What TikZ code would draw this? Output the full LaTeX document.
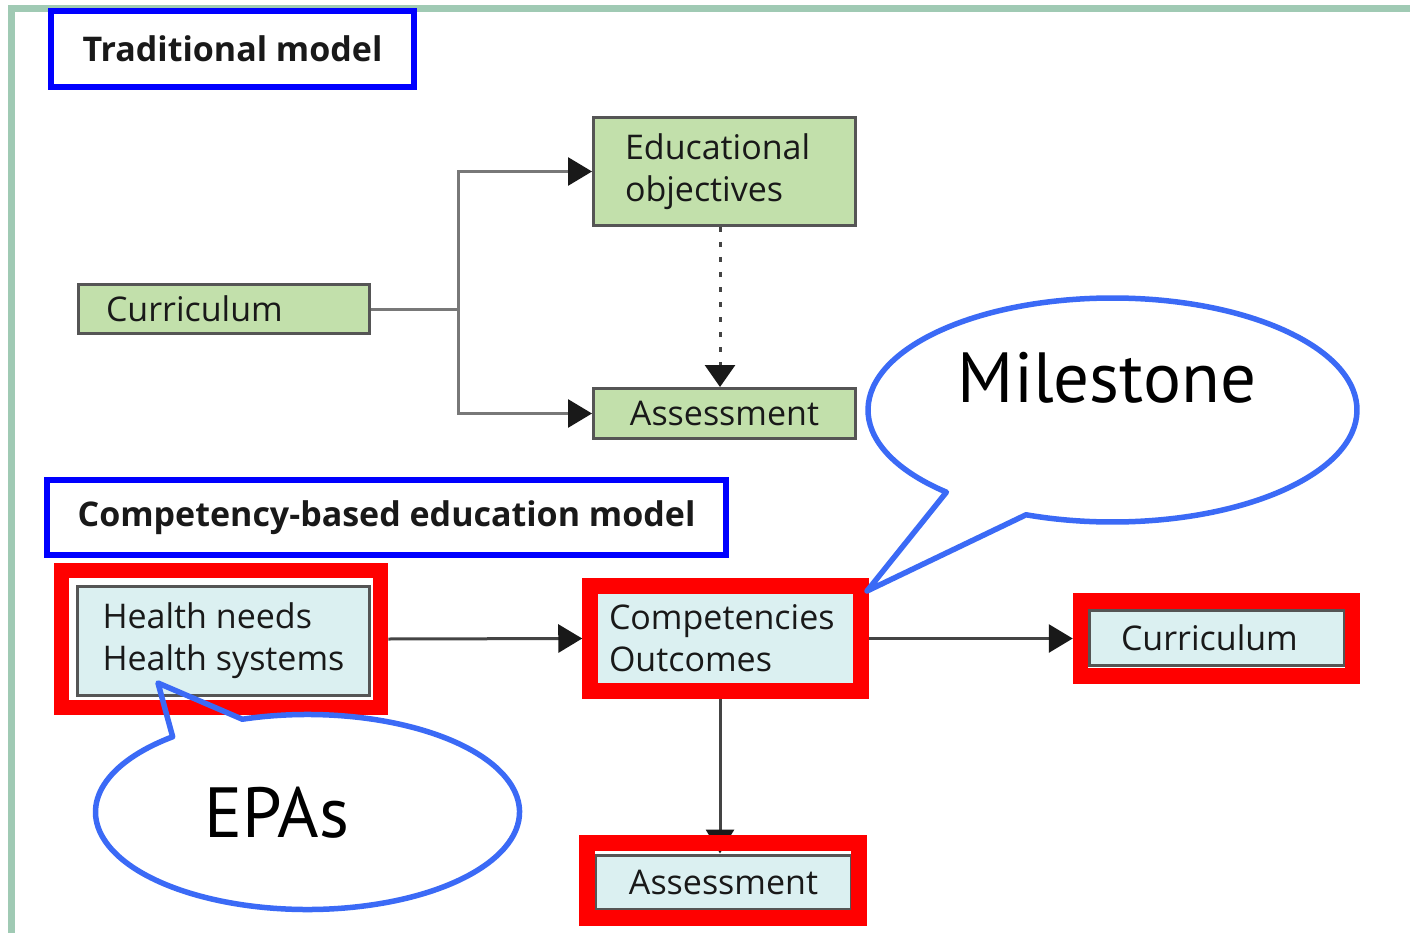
\documentclass[tikz,border=0pt]{standalone}
\usepackage{fontspec}
\setmainfont{Open Sans}
\newfontfamily\calloutfont{PT Sans}
\usetikzlibrary{arrows.meta}
\definecolor{framegreen}{RGB}{160,202,180}
\definecolor{boxgreen}{RGB}{194,224,171}
\definecolor{boxblue}{RGB}{219,240,241}
\definecolor{edgegray}{RGB}{85,85,85}
\definecolor{lightline}{RGB}{120,120,120}
\definecolor{darkline}{RGB}{68,68,68}
\definecolor{calloutblue}{RGB}{59,106,246}
\definecolor{titleblue}{RGB}{0,0,255}
\begin{document}
\begin{tikzpicture}[x=1pt,y=-1pt,
  boxtext/.style={font=\fontsize{34}{42}\selectfont,text=black!90},
  titlebox/.style={draw=titleblue,line width=6pt,fill=white,inner sep=0pt,
    font=\fontsize{34}{40}\selectfont\bfseries,text=black!90},
  greenbox/.style={draw=edgegray,line width=3pt,fill=boxgreen,inner ysep=0pt,boxtext},
  bluebox/.style={draw=edgegray,line width=3pt,fill=boxblue,inner ysep=0pt,boxtext},
  redframe/.style={draw=red,line width=15.5pt,inner sep=0pt},
  connector/.style={line width=3pt},
  headtip/.style={arrows={-{Triangle[length=24pt,width=28pt,color=black!90]}}},
  bubble/.style={draw=calloutblue,line width=5.5pt,line join=round},
  bubbletext/.style={font=\calloutfont\fontsize{71}{80}\selectfont,text=black}
]
% canvas
\useasboundingbox (0,0) rectangle (1410,933);
\fill[white] (0,0) rectangle (1410,933);
\draw[framegreen,line width=7pt] (11,933) -- (11,8.5) -- (1410,8.5);

% headings
\node[titlebox,minimum width=363pt,minimum height=76pt] (trad) at (232.5,49) {Traditional model};
\node[titlebox,minimum width=679pt,minimum height=75pt] (cbe) at (386.5,517.5) {Competency-based education model};

% traditional model
\node[greenbox,minimum width=262pt,minimum height=108pt,text width=199pt,inner xsep=31.5pt,align=left]
  (edu) at (724.5,171.5) {Educational\\objectives};
\node[greenbox,minimum width=291pt,minimum height=49pt,text width=236pt,inner xsep=27.5pt,align=left]
  (cur) at (224,309) {Curriculum};
\node[greenbox,minimum width=262pt,minimum height=50pt] (ass) at (724.5,413.5) {Assessment};

\coordinate (split) at (458,309);
\draw[connector,lightline] (cur.east) -- (split);
\draw[connector,lightline,headtip] (split) |- (edu.west);
\draw[connector,lightline,headtip] (split) |- (ass.west);
\draw[connector,darkline,dash pattern=on 5pt off 10pt,arrows={-{Triangle[length=22pt,width=30pt,color=black!90]}}]
  ([xshift=-4.5pt]edu.south) -- ([xshift=-4.5pt]ass.north);

% competency-based model
\node[bluebox,minimum width=292pt,minimum height=109pt,align=left]
  (hn) at (223.5,641) {Health needs\\Health systems};
\node[bluebox,draw=none,minimum width=259pt,minimum height=93pt,text width=233pt,inner xsep=13pt,align=left]
  (co) at (725.5,638.5) {Competencies\\Outcomes};
\node[bluebox,minimum width=255pt,minimum height=55pt,text width=192pt,inner xsep=31.5pt,align=left]
  (cu2) at (1217,638) {Curriculum};
\node[bluebox,minimum width=256pt,minimum height=54pt] (as2) at (723.5,882) {Assessment};

\draw[connector,darkline,headtip] ([xshift=-5.5pt]co.south) -- ([xshift=-3.5pt]as2.north);

\node[redframe,minimum width=319pt,minimum height=137pt] (hnf) at (221,639) {};
\node[redframe,minimum width=271pt,minimum height=105pt] (cof) at (725.5,638.5) {};
\node[redframe,minimum width=272pt,minimum height=75pt] (cuf) at (1216.5,638.5) {};
\node[redframe,minimum width=272pt,minimum height=75pt] (asf) at (723,880.5) {};

\draw[connector,darkline,headtip] (hnf.east) -- (cof.west);
\draw[connector,darkline,headtip] (cof.east) -- (cuf.west);

% speech bubbles
\coordinate (mc) at (1112.5,410);
\coordinate (mtip) at (867,591);
\draw[bubble] (mtip) -- ([shift={(132.8:244.5 and 112)}]mc)
  arc[start angle=132.8,end angle=470.7,x radius=244.5,y radius=112] -- cycle;
\node[bubbletext,anchor=base] (ms) at (1107,402) {Milestone};

\coordinate (ec) at (307.5,812);
\coordinate (etip) at (158,683);
\draw[bubble] (etip) -- ([shift={(252.1:212 and 97.5)}]ec)
  arc[start angle=252.1,end angle=590.5,x radius=212,y radius=97.5] -- cycle;
\node[bubbletext,anchor=base] (epa) at (276.5,837) {EPAs};
\end{tikzpicture}
\end{document}
